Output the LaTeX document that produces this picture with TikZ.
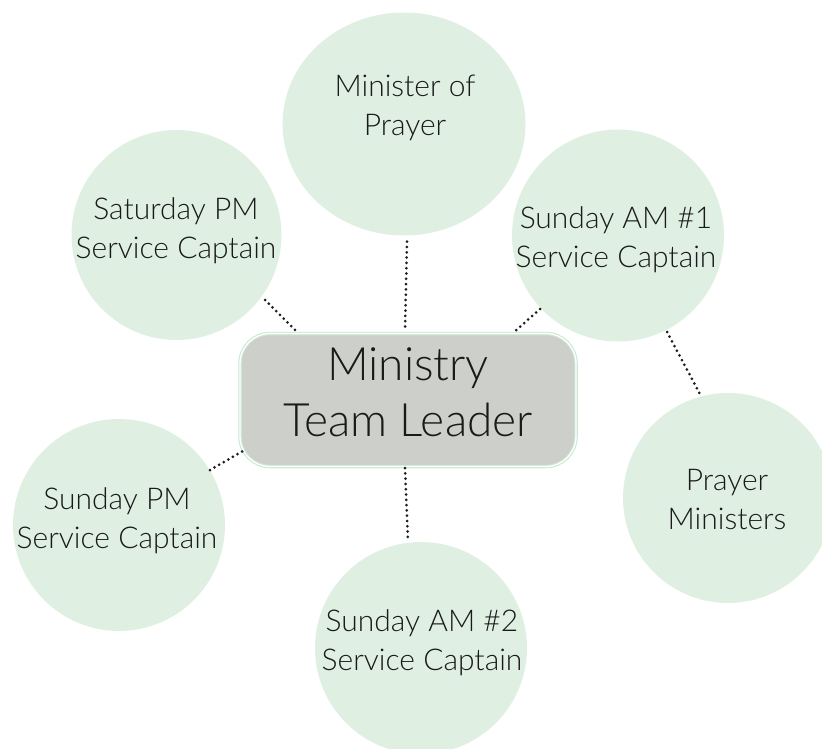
\documentclass[tikz,border=0pt]{standalone}
\usepackage{fontspec}
\setmainfont{Lato Light}
\usetikzlibrary{shapes.geometric,calc}
\definecolor{mint}{HTML}{DFF0E3}
\definecolor{leadfill}{HTML}{CDCFCA}
\definecolor{leadborder}{HTML}{CCE8D3}
\definecolor{ink}{HTML}{1A1A1A}
\definecolor{dotc}{HTML}{1E1E1E}
\tikzset{
  bubble/.style={circle, fill=mint, draw=none, minimum size=#1, inner sep=0pt},
  bubbletext/.style={align=center, text=ink, font=\fontsize{30}{39}\selectfont, inner sep=0pt},
  leadbox/.style={rounded corners=30pt, fill=leadfill, draw=leadborder, double=white,
    double distance=1.3pt, line width=1.1pt, minimum width=336pt, minimum height=133pt, inner sep=0pt},
  leadtext/.style={align=center, text=ink, font=\fontsize{46}{56}\selectfont, inner sep=0pt},
  dotline/.style={dotc, line width=3pt, line cap=round, dash pattern=on 0pt off 5.3pt}
}
\begin{document}
\begin{tikzpicture}[x=1pt,y=-1pt]
\useasboundingbox (0,0) rectangle (822,749);
% bubbles
\node[ellipse, fill=mint, draw=none, minimum width=243pt, minimum height=223pt, inner sep=0pt] (minister) at (404,124) {};
\node[bubble=210pt] (sat) at (176.5,235) {};
\node[bubble=212pt] (am1) at (618,235.5) {};
\node[bubble=210pt] (prayer) at (728,498) {};
\node[bubble=212pt] (sunpm) at (119,525) {};
\node[bubble=212pt] (am2) at (421,648) {};
\node[leadbox] (leader) at (408,400) {};
% texts
\node[bubbletext] (ministert) at (405,108) {Minister of\\Prayer};
\node[bubbletext] (satt) at (176,231) {Saturday PM\\Service Captain};
\node[bubbletext] (am1t) at (616,239.5) {Sunday AM \#1\\Service Captain};
\node[bubbletext] (prayert) at (727,500) {Prayer\\Ministers};
\node[bubbletext] (am2t) at (422,643) {Sunday AM \#2\\Service Captain};
\node[bubbletext] (sunpmt) at (117,520.5) {Sunday PM\\Service Captain};
\node[leadtext] (leadert) at (408,392) {Ministry\\Team Leader};
% connectors
\draw[dotline] ($(minister.south)+(3,6)$) -- ($(leader.north)+(-3,-2)$);
\draw[dotline] ($(sat.center)+(88.5,65)$) -- ($(leader.north west)+(59,0.5)$);
\draw[dotline] ($(am1.center)+(-78,73.5)$) -- ($(leader.north east)+(-64,0.5)$);
\draw[dotline] ($(am1.center)+(49,96.5)$) -- ($(prayer.center)+(-27,-102)$);
\draw[dotline] ($(sunpm.center)+(91,-55)$) -- ($(leader.south west)+(6,-17.5)$);
\draw[dotline] ($(leader.south)+(-3,1)$) -- ($(am2.north)+(-13,-1)$);
\end{tikzpicture}
\end{document}
